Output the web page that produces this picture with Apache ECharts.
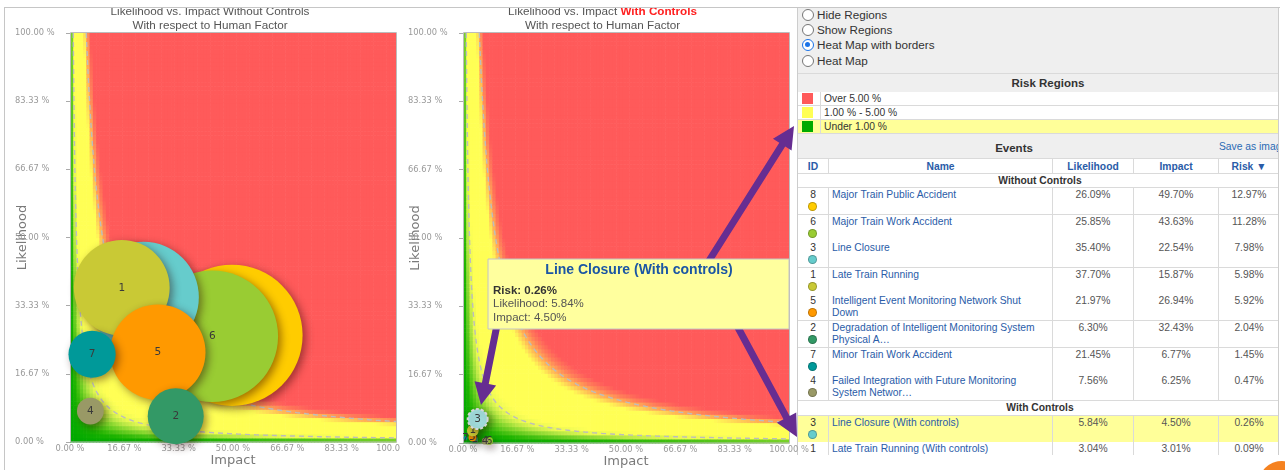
<!DOCTYPE html>
<html>
<head>
<meta charset="utf-8">
<title>Likelihood vs. Impact</title>
<script src="https://cdn.jsdelivr.net/npm/echarts@6/dist/echarts.min.js"></script>
<style>
  html, body { margin:0; padding:0; width:1285px; height:470px; overflow:hidden; background:#fff; }
  body { position:relative; font-family:"Liberation Sans", Arial, sans-serif; }
  #leftChart { position:absolute; left:0; top:0; width:400px; height:470px; z-index:1; }
  #rightChart { position:absolute; left:400px; top:0; width:885px; height:470px; z-index:3; pointer-events:none; }
  #frame { position:absolute; left:4px; top:7px; width:1275px; height:470px; border-top:1px solid #c6c6c6; border-left:1px solid #c6c6c6; z-index:4; pointer-events:none; }
  #panel { position:absolute; left:797px; top:7px; width:482px; height:448px; background:#efefef; border-left:1px solid #cdcdcd; border-right:1px solid #cdcdcd; overflow:hidden; z-index:2; color:#333; box-sizing:border-box; }
  #panel div { position:absolute; box-sizing:border-box; }
  .radio { left:4px; height:14px; font-size:11.7px; line-height:14px; white-space:nowrap; color:#333; }
  .radio .ring { left:0; top:1px; width:12px; height:12px; border:1px solid #767676; border-radius:50%; background:#fff; }
  .radio .ring.on { border:1.5px solid #1a73e8; }
  .radio .ring.on::after { content:''; position:absolute; left:2px; top:2px; width:5px; height:5px; border-radius:50%; background:#1a73e8; }
  .radio .lbl { left:15px; top:0; }
  .sec { left:0; width:500px; background:#efefef; font-weight:bold; font-size:11.5px; text-align:center; color:#333; border-top:1px solid #dadada; }
  .rrow { left:0; width:481px; height:14px; background:#fff; border-bottom:1px solid #dadada; font-size:10.3px; line-height:13px; color:#333; }
  .rrow .sw { left:0; top:0; width:23px; height:13px; border-right:1px solid #dadada; }
  .rrow .sw i { position:absolute; left:4px; top:1px; width:11px; height:11px; }
  .rrow .tx { left:26px; top:0; white-space:nowrap; }
  .erow { left:0; width:481px; background:#fff; border-bottom:1px solid #dadada; font-size:10.3px; line-height:12px; }
  .erow .c { top:0; height:100%; border-left:1px solid #dadada; padding-top:1px; }
  .erow .c.first { border-left:none; }
  .c.id { text-align:center; color:#333; }
  .c.nm { color:#2a5ca8; padding-left:3px; padding-right:11px; }
  .c.v { text-align:center; color:#555; }
  .c.hd { color:#2a5ca8; font-weight:bold; text-align:center; line-height:15px; padding-top:0; }
  .dot { position:absolute; left:10px; top:14px; width:9px; height:9px; border-radius:50%; box-sizing:border-box; border:1px solid rgba(0,0,0,0.25); }
  .grp { left:0; width:484px; background:#fff; border-bottom:1px solid #dadada; font-size:10.3px; font-weight:bold; text-align:center; line-height:14px; color:#333; }
  #fab { position:absolute; left:1258px; top:461px; width:48px; height:48px; border-radius:50%; background:#f58220; z-index:5; }
</style>
</head>
<body>
<div id="leftChart"></div>
<div id="panel"></div>
<div id="rightChart"></div>
<div id="frame"></div>
<div id="fab"></div>
<script>
// ---- Events without controls (sorted by risk, high to low) ----
const eventIds = [8, 6, 3, 1, 5, 2, 7, 4];
const eventNames = [
  'Major Train Public Accident',
  'Major Train Work Accident',
  'Line Closure',
  'Late Train Running',
  'Intelligent Event Monitoring Network Shut Down',
  'Degradation of Intelligent Monitoring System Physical A…',
  'Minor Train Work Accident',
  'Failed Integration with Future Monitoring System Networ…'
];
const eventLikelihood = [26.09, 25.85, 35.40, 37.70, 21.97, 6.30, 21.45, 7.56];
const eventImpact = [49.70, 43.63, 22.54, 15.87, 26.94, 32.43, 6.77, 6.25];
const eventRisk = [12.97, 11.28, 7.98, 5.98, 5.92, 2.04, 1.45, 0.47];

// ---- Same events with controls applied (drawn back to front) ----
const ctrlIds = [6, 4, 2, 5, 7, 1, 3];
const ctrlNames = [
  'Major Train Work Accident (With controls)',
  'Failed Integration with Future Monitoring System Networ…',
  'Degradation of Intelligent Monitoring System Physical A…',
  'Intelligent Event Monitoring Network Shut Down (With con…',
  'Minor Train Work Accident (With controls)',
  'Late Train Running (With controls)',
  'Line Closure (With controls)'
];
const ctrlLikelihood = [0.5, 0.45, 0.8, 1.4, 1.2, 3.04, 5.84];
const ctrlImpact = [8.0, 6.8, 3.6, 2.9, 0.8, 3.01, 4.50];
const ctrlRisk = [0.04, 0.03, 0.03, 0.04, 0.01, 0.09, 0.26];
const ctrlTableOrder = [6, 5, 0, 3, 1, 2, 4]; // table rows, risk high to low
const selectedCtrl = 6;                       // "Line Closure (With controls)"

// ---- Risk regions and axes ----
const riskThresholds = [1, 5];  // % risk: green below 1, yellow to 5, red above
const regionLabels = ['Over 5.00 %', '1.00 % - 5.00 %', 'Under 1.00 %'];
const axisTickLabels = ['0.00 %', '16.67 %', '33.33 %', '50.00 %', '66.67 %', '83.33 %', '100.00 %'];
const radioOptions = ['Hide Regions', 'Show Regions', 'Heat Map with borders', 'Heat Map'];
const radioChecked = 2;

// ---- Styling ----
const regionColors = ['#ff5a5a', '#ffff55', '#00aa00'];
const idColors = { 1: '#c9c935', 2: '#339966', 3: '#66cccc', 4: '#999966', 5: '#ff9900', 6: '#99cc33', 7: '#009999', 8: '#ffcc00' };
const heatStops = [
  [0, '#00a800'], [0.2, '#1cb300'], [0.45, '#6acd22'], [0.75, '#bce946'], [1.0, '#ecf954'],
  [1.35, '#ffff55'], [4.2, '#ffff55'], [4.9, '#ffb755'], [5.6, '#ff7c59'], [6.3, '#ff5a5a']
];
const BUBBLE_SCALE = 39.2;   // px of diameter per sqrt(% risk)
const AXIS_FONT = '"DejaVu Sans", Verdana, sans-serif';
const UI_FONT = '"Liberation Sans", Arial, sans-serif';

function hexToRgb(h) { return [1, 3, 5].map(i => parseInt(h.substr(i, 2), 16)); }
function heatColor(v) {
  if (v <= heatStops[0][0]) return heatStops[0][1];
  for (let k = 1; k < heatStops.length; k++) {
    if (v <= heatStops[k][0]) {
      const a = heatStops[k - 1], b = heatStops[k];
      const t = (v - a[0]) / (b[0] - a[0]);
      const ca = hexToRgb(a[1]), cb = hexToRgb(b[1]);
      return 'rgb(' + ca.map((c, i) => Math.round(c + (cb[i] - c) * t)).join(',') + ')';
    }
  }
  return heatStops[heatStops.length - 1][1];
}

// Risk = likelihood x impact; one cell per 1 % step on each axis.
function buildHeatCells(n) {
  const step = 100 / n, out = [];
  for (let i = 0; i < n; i++) {
    for (let j = 0; j < n; j++) {
      const x = i * step, y = j * step;
      out.push([x, y, step, (x + step / 2) * (y + step / 2) / 100]);
    }
  }
  return out;
}
const heatCells = buildHeatCells(100);

// Iso-risk border line for a threshold (impact * likelihood = t).
function isoRiskLine(t) {
  const pts = [], n = 140;
  for (let k = 0; k <= n; k++) {
    const imp = t * Math.pow(100 / t, k / n);
    pts.push([imp, t * 100 / imp]);
  }
  return pts;
}

function tickLabel(v) { return axisTickLabels[Math.round(v / (100 / 6))]; }

function baseSeries() {
  const s = [{
    type: 'custom', z: 1, silent: true, encode: { x: 0, y: 1 },
    data: heatCells,
    renderItem: function (params, api) {
      const x0 = api.value(0), y0 = api.value(1), st = api.value(2);
      const p0 = api.coord([x0, y0 + st]);
      const p1 = api.coord([x0 + st, y0]);
      return {
        type: 'rect',
        shape: { x: p0[0], y: p0[1], width: p1[0] - p0[0] + 0.6, height: p1[1] - p0[1] + 0.6 },
        style: { fill: heatColor(api.value(3)) }
      };
    }
  }];
  riskThresholds.forEach(t => s.push({
    type: 'line', z: 2, silent: true, symbol: 'none', data: isoRiskLine(t),
    lineStyle: { color: '#bdbdbd', width: 1.4, type: [5, 4] }
  }));
  return s;
}

function axes() {
  return {
    xAxis: {
      type: 'value', min: 0, max: 100, interval: 100 / 6,
      axisLine: { show: false }, axisTick: { show: false }, splitLine: { show: false },
      axisLabel: { formatter: tickLabel, color: '#9a9a9a', fontSize: 8.3, fontFamily: AXIS_FONT, margin: 3 },
      name: 'Impact', nameLocation: 'middle', nameGap: 12, nameMoveOverlap: false,
      nameTextStyle: { color: '#7a7a7a', fontSize: 13, fontFamily: AXIS_FONT }
    },
    yAxis: {
      type: 'value', min: 0, max: 100, interval: 100 / 6,
      axisLine: { show: false }, splitLine: { show: false },
      axisTick: { show: true, length: 4, lineStyle: { color: '#aaa' } },
      axisLabel: { formatter: tickLabel, color: '#9a9a9a', fontSize: 8.3, fontFamily: AXIS_FONT, margin: 55, align: 'left' },
      name: 'Likelihood', nameLocation: 'middle', nameGap: 41, nameRotate: 90, nameMoveOverlap: false,
      nameTextStyle: { color: '#7a7a7a', fontSize: 13, fontFamily: AXIS_FONT }
    }
  };
}

const bubbleShadow = { shadowBlur: 8, shadowOffsetX: 3, shadowOffsetY: 3, shadowColor: 'rgba(40,0,0,0.45)' };
const bubbleLabel = { show: true, position: 'inside', formatter: p => p.value[3], color: '#3a3a3a', fontSize: 10.5, fontFamily: AXIS_FONT };

// One series per bubble so each later bubble covers earlier bubbles and their numbers.
function bubbleSeries(ids, imp, lik, risk, styleFor) {
  return ids.map((id, k) => ({
    type: 'scatter', z: 3 + k,
    data: [{ value: [imp[k], lik[k], risk[k], id], itemStyle: styleFor(id, k) }],
    symbolSize: v => BUBBLE_SCALE * Math.sqrt(v[2]),
    itemStyle: Object.assign({ opacity: 1 }, bubbleShadow),
    label: bubbleLabel
  }));
}

function titleText(x, line1, rich) {
  return [
    { type: 'text', x: x, y: 12, z: 10,
      style: { text: line1, font: '11.7px ' + UI_FONT, fill: '#555', align: 'center', verticalAlign: 'middle', textAlign: 'center', textVerticalAlign: 'middle', rich: rich || {} } },
    { type: 'text', x: x, y: 25.5, z: 10,
      style: { text: 'With respect to Human Factor', font: '11.7px ' + UI_FONT, fill: '#555', align: 'center', verticalAlign: 'middle', textAlign: 'center', textVerticalAlign: 'middle' } }
  ];
}

// Thin frame around a plot area
function plotFrame(g) {
  return { type: 'rect', z: 2, silent: true,
    shape: { x: g.left + 0.5, y: g.top - 0.5, width: g.width, height: g.height + 0.5 },
    style: { fill: 'none', stroke: '#bcbcbc', lineWidth: 1 } };
}

// ---------- Left chart: without controls ----------
const leftGrid = { left: 70, top: 33, width: 326, height: 409 };
const leftChart = echarts.init(document.getElementById('leftChart'), null, { renderer: 'canvas' });
const leftAxes = axes();
leftChart.setOption({
  animation: false,
  grid: Object.assign({ containLabel: false, outerBoundsMode: 'none' }, leftGrid),
  xAxis: leftAxes.xAxis,
  yAxis: leftAxes.yAxis,
  series: baseSeries().concat(bubbleSeries(eventIds, eventImpact, eventLikelihood, eventRisk,
    id => ({ color: idColors[id] }))),
  graphic: titleText(210, 'Likelihood vs. Impact Without Controls').concat([plotFrame(leftGrid)])
});

// ---------- Right chart: with controls (plus callout) ----------
function arrowPoints(x1, y1, x2, y2, w, hw, hl) {
  const dx = x2 - x1, dy = y2 - y1, len = Math.hypot(dx, dy);
  const ux = dx / len, uy = dy / len, nx = -uy, ny = ux;
  const bx = x2 - ux * hl, by = y2 - uy * hl;
  return [
    [x1 + nx * w / 2, y1 + ny * w / 2], [bx + nx * w / 2, by + ny * w / 2], [bx + nx * hw / 2, by + ny * hw / 2],
    [x2, y2],
    [bx - nx * hw / 2, by - ny * hw / 2], [bx - nx * w / 2, by - ny * w / 2], [x1 - nx * w / 2, y1 - ny * w / 2]
  ];
}
const OX = 400; // right canvas offset on the page
const arrowColor = '#662d91';
const arrows = [
  [700 - OX, 275, 794 - OX, 126],
  [735 - OX, 322, 797 - OX, 437],
  [497 - OX, 325, 481 - OX, 405]
].map(a => ({ type: 'polygon', z: 20, shape: { points: arrowPoints(a[0], a[1], a[2], a[3], 7, 22, 22) }, style: { fill: arrowColor } }));

const sel = selectedCtrl;
const callout = {
  type: 'group', z: 30, x: 488 - OX, y: 259,
  children: [
    { type: 'rect', z: 30, shape: { x: 0, y: 0, width: 301, height: 70 }, style: { fill: '#ffff9e', stroke: '#c4c4c4', lineWidth: 1 } },
    { type: 'text', z: 31, x: 151, y: 11, style: { text: ctrlNames[sel], font: 'bold 14px ' + UI_FONT, fill: '#1b56a4', align: 'center', verticalAlign: 'middle', textAlign: 'center', textVerticalAlign: 'middle' } },
    { type: 'text', z: 31, x: 5, y: 32, style: { text: 'Risk: ' + ctrlRisk[sel].toFixed(2) + '%', font: 'bold 11.5px ' + UI_FONT, fill: '#333', verticalAlign: 'middle', textVerticalAlign: 'middle' } },
    { type: 'text', z: 31, x: 5, y: 45, style: { text: 'Likelihood: ' + ctrlLikelihood[sel].toFixed(2) + '%', font: '11.5px ' + UI_FONT, fill: '#555', verticalAlign: 'middle', textVerticalAlign: 'middle' } },
    { type: 'text', z: 31, x: 5, y: 59, style: { text: 'Impact: ' + ctrlImpact[sel].toFixed(2) + '%', font: '11.5px ' + UI_FONT, fill: '#555', verticalAlign: 'middle', textVerticalAlign: 'middle' } }
  ]
};

const rightGrid = { left: 63, top: 33, width: 326, height: 410 };
const rightChart = echarts.init(document.getElementById('rightChart'), null, { renderer: 'canvas' });
const rightAxes = axes();
rightChart.setOption({
  animation: false,
  grid: Object.assign({ containLabel: false, outerBoundsMode: 'none' }, rightGrid),
  xAxis: rightAxes.xAxis,
  yAxis: rightAxes.yAxis,
  series: baseSeries().concat(bubbleSeries(ctrlIds, ctrlImpact, ctrlLikelihood, ctrlRisk,
    (id, k) => k === sel
      ? { color: '#a3e0e0', borderColor: '#d6d6d6', borderWidth: 2, borderType: [3, 2] }
      : { color: idColors[id] })),
  graphic: titleText(202.5, 'Likelihood vs. Impact {r|With Controls}', {
    r: { font: 'bold 11.7px ' + UI_FONT, fill: '#ff2020', color: '#ff2020' }
  }).concat([plotFrame(rightGrid)]).concat(arrows).concat([callout])
});

// ---------- Side panel ----------
(function buildPanel() {
  const P = document.getElementById('panel');
  const Y = y => (y - 7) + 'px';  // page y -> panel y
  let h = '';
  const radioY = [15, 30, 45, 61];
  radioOptions.forEach((t, k) => {
    h += '<div class="radio" style="top:' + Y(radioY[k] - 7) + ';width:300px">' +
         '<div class="ring' + (k === radioChecked ? ' on' : '') + '"></div><div class="lbl">' + t + '</div></div>';
  });
  h += '<div class="sec" style="top:' + Y(73) + ';height:19px;line-height:19px">Risk Regions</div>';
  regionLabels.forEach((t, k) => {
    const bg = k === regionLabels.length - 1 ? '#ffff99' : '#fff';
    h += '<div class="rrow" style="top:' + Y(92 + k * 14) + ';background:' + bg + '">' +
         '<div class="sw"><i style="background:' + regionColors[k] + '"></i></div><div class="tx">' + t + '</div></div>';
  });
  h += '<div class="sec" style="top:' + Y(139) + ';height:19px;line-height:18px;width:432px;border-top:none">Events</div>';
  h += '<div style="top:' + Y(140) + ';left:421px;font-size:10.3px;color:#2a6ab4;white-space:nowrap;line-height:13px">Save as image</div>';

  const colX = [0, 30, 254, 335, 420, 481];
  function cells(vals, classes) {
    let s = '';
    for (let c = 0; c < 5; c++) {
      s += '<div class="c ' + classes[c] + (c === 0 ? ' first' : '') + '" style="left:' + colX[c] + 'px;width:' + (colX[c + 1] - colX[c]) + 'px">' + vals[c] + '</div>';
    }
    return s;
  }
  h += '<div class="erow" style="top:' + Y(158) + ';height:16px;border-top:1px solid #dadada">' +
       cells(['ID', 'Name', 'Likelihood', 'Impact', 'Risk ▼'], ['hd', 'hd', 'hd', 'hd', 'hd']) + '</div>';
  h += '<div class="grp" style="top:' + Y(174) + ';height:14px">Without Controls</div>';
  const RH = 26.6;
  function eventRow(top, id, name, l, i, r, bg) {
    return '<div class="erow" style="top:' + Y(top) + ';height:' + (RH + 0.5) + 'px;background:' + bg + '">' +
      cells([id + '<span class="dot" style="background:' + idColors[id] + '"></span>', name,
             l.toFixed(2) + '%', i.toFixed(2) + '%', r.toFixed(2) + '%'], ['id', 'nm', 'v', 'v', 'v']) + '</div>';
  }
  eventIds.forEach((id, k) => {
    h += eventRow(188 + k * RH, id, eventNames[k], eventLikelihood[k], eventImpact[k], eventRisk[k], '#fff');
  });
  const gTop = 188 + eventIds.length * RH;
  h += '<div class="grp" style="top:' + Y(gTop) + ';height:15px">With Controls</div>';
  ctrlTableOrder.forEach((k, n) => {
    h += eventRow(gTop + 15 + n * RH, ctrlIds[k], ctrlNames[k], ctrlLikelihood[k], ctrlImpact[k], ctrlRisk[k], k === sel ? '#ffff99' : '#fff');
  });
  P.innerHTML = h;
})();
</script>
</body>
</html>
